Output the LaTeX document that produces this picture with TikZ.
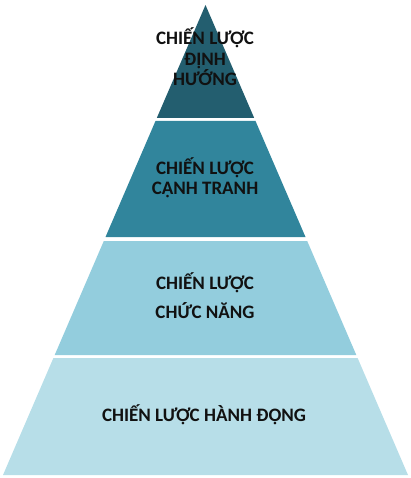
\documentclass[tikz,border=0pt]{standalone}
\usepackage{fontspec}
\setmainfont{Carlito}
\definecolor{bandA}{HTML}{235E6F}
\definecolor{bandB}{HTML}{31859C}
\definecolor{bandC}{HTML}{93CDDD}
\definecolor{bandD}{HTML}{B7DEE8}
\definecolor{txt}{HTML}{111111}
\tikzset{
  band/.style={draw=none},
  lbl/.style={anchor=base, inner sep=0pt, text=txt, font=\fontsize{19}{21}\selectfont\bfseries}
}
\begin{document}
\begin{tikzpicture}[x=1pt,y=-1pt]
\useasboundingbox (0,0) rectangle (411,478);
% apex (205.5,5), base y=475 from 3 to 408; half-width = (y-5)*0.43085
\fill[bandA] (205.5,5) -- (254.2,118) -- (156.8,118) -- cycle;
\fill[bandB] (155.5,121) -- (255.5,121) -- (305.5,237) -- (105.5,237) -- cycle;
\fill[bandC] (103.8,241) -- (307.2,241) -- (356.3,355) -- (54.7,355) -- cycle;
\fill[bandD] (53.4,358) -- (357.6,358) -- (408,475) -- (3,475) -- cycle;
\node[lbl] (a1) at (205,45) {CHIẾN LƯỢC};
\node[lbl] (a2) at (205,66) {ĐỊNH};
\node[lbl] (a3) at (205,85.5) {HƯỚNG};
\node[lbl] (b1) at (205,175) {CHIẾN LƯỢC};
\node[lbl] (b2) at (205,194) {CẠNH TRANH};
\node[lbl] (c1) at (205,289) {CHIẾN LƯỢC};
\node[lbl] (c2) at (205,318) {CHỨC NĂNG};
\node[lbl] (d1) at (204,421) {CHIẾN LƯỢC HÀNH ĐỘNG};
\end{tikzpicture}
\end{document}
